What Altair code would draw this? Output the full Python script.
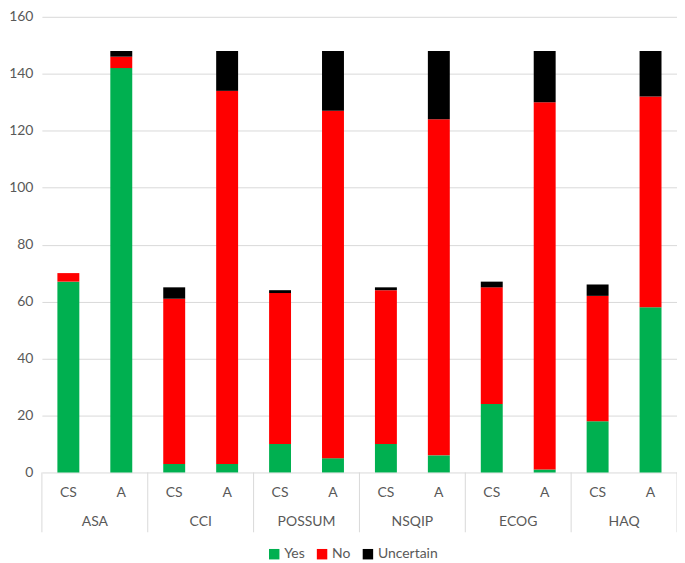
import altair as alt
import pandas as pd

groups = ["ASA", "CCI", "POSSUM", "NSQIP", "ECOG", "HAQ"]
subgroups = ["CS", "A"]
yes_vals = [67, 142, 3, 3, 10, 5, 10, 6, 24, 1, 18, 58]
no_vals = [3, 4, 58, 131, 53, 122, 54, 118, 41, 129, 44, 74]
unc_vals = [0, 2, 4, 14, 1, 21, 1, 24, 2, 18, 4, 16]
series = ["Yes", "No", "Uncertain"]
colors = ["#00B050", "#FF0000", "#000000"]
y_ticks = [0, 20, 40, 60, 80, 100, 120, 140, 160]

keys = [g + "|" + s for g in groups for s in subgroups]
rows = []
for i, k in enumerate(keys):
    for j, (name, vals) in enumerate(zip(series, [yes_vals, no_vals, unc_vals])):
        rows.append({"key": k, "series": name, "ord": j, "value": vals[i]})
df = pd.DataFrame(rows)

W, H = 637, 457
FONT = "Lato"
LBL = "#595959"
GRID = "#d9d9d9"

xscale = alt.Scale(domain=keys, paddingInner=0, paddingOuter=0)

bars = alt.Chart(df).mark_bar(size=22).encode(
    x=alt.X("key:N", scale=xscale, sort=keys,
            axis=alt.Axis(labelExpr="split(datum.value,'|')[1]", labelAngle=0,
                          ticks=False, domain=False, grid=False, title=None,
                          labelPadding=13, labelFont=FONT, labelFontSize=14,
                          labelColor=LBL)),
    y=alt.Y("value:Q", stack="zero",
            scale=alt.Scale(domain=[0, 160], nice=False),
            axis=alt.Axis(values=y_ticks, ticks=False, domain=False, title=None,
                          gridColor=GRID, gridWidth=1, labelPadding=9,
                          labelFont=FONT, labelFontSize=14, labelColor=LBL)),
    color=alt.Color("series:N", scale=alt.Scale(domain=series, range=colors),
                    legend=alt.Legend(title=None, orient="none", direction="horizontal",
                                      legendX=226, legendY=H + 75,
                                      symbolType="square", symbolSize=110,
                                      symbolStrokeWidth=0, labelFont=FONT,
                                      labelFontSize=14, labelColor=LBL,
                                      columnPadding=10, labelOffset=3)),
    order=alt.Order("ord:Q"),
)

sep_df = pd.DataFrame({"key": [g + "|CS" for g in groups]})
seps = alt.Chart(sep_df).mark_rule(color=GRID, strokeWidth=1).encode(
    x=alt.X("key:N", scale=xscale, sort=keys, bandPosition=0),
    y=alt.value(H),
    y2=alt.value(H + 60),
)
end_df = pd.DataFrame({"key": [groups[-1] + "|A"]})
end_sep = alt.Chart(end_df).mark_rule(color=GRID, strokeWidth=1).encode(
    x=alt.X("key:N", scale=xscale, sort=keys, bandPosition=1),
    y=alt.value(H),
    y2=alt.value(H + 60),
)

grp_df = pd.DataFrame({"key": [g + "|A" for g in groups], "label": groups})
grp_text = alt.Chart(grp_df).mark_text(font=FONT, fontSize=14, color=LBL).encode(
    x=alt.X("key:N", scale=xscale, sort=keys, bandPosition=0),
    y=alt.value(H + 50),
    text="label:N",
)

chart = alt.layer(bars, seps, end_sep, grp_text).properties(
    width=W, height=H,
    autosize=alt.AutoSizeParams(type="none"),
    padding={"left": 34, "top": 8, "right": 0, "bottom": 89},
).configure_view(stroke=None)

chart.save("out.html", embed_options={"renderer": "svg", "actions": False})
